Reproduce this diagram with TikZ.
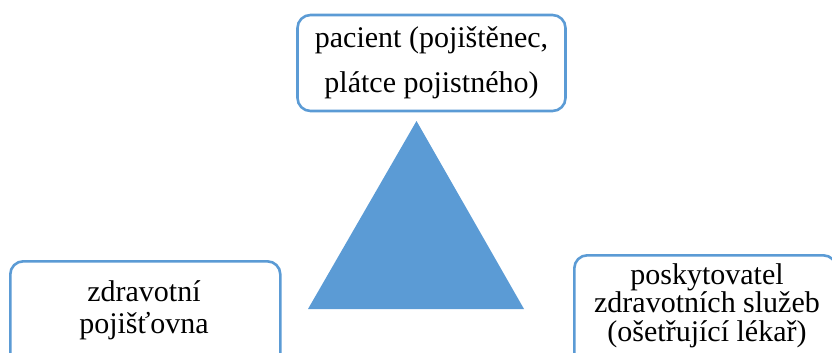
\documentclass[tikz,border=0pt]{standalone}
\usepackage{fontspec}
\setmainfont{Liberation Serif}
\definecolor{offblue}{HTML}{5B9BD5}
\begin{document}
\begin{tikzpicture}[x=1pt,y=-1pt,
  box/.style={draw=offblue, line width=2.6pt, rounded corners=13pt, fill=white, inner sep=0pt},
  lbl/.style={align=center, inner sep=0pt, text=black}]
\useasboundingbox (0,0) rectangle (832,353);
% top box
\node[box, minimum width=268pt, minimum height=96pt, lbl, font=\fontsize{30}{45}\selectfont] (top) at (431.5,63) {pacient (pojištěnec,\\plátce pojistného)};
% left box (cut off at bottom)
\node[box, minimum width=270pt, minimum height=130pt, anchor=north west] (left) at (9,260) {};
\node[lbl, font=\fontsize{30}{32}\selectfont] (lefttext) at (144,310) {zdravotní\\pojišťovna};
% right box (cut off at right and bottom)
\node[box, minimum width=262pt, minimum height=130pt, anchor=north west] (right) at (573,254) {};
\node[lbl, font=\fontsize{30}{28.5}\selectfont] (righttext) at (707,305.5) {poskytovatel\\zdravotních služeb\\(ošetřující lékař)};
% triangle
\coordinate (apex) at (416.5,121);
\coordinate (bl) at (308,309);
\coordinate (br) at (524,309);
\fill[offblue] (apex) -- (bl) -- (br) -- cycle;
\end{tikzpicture}
\end{document}
